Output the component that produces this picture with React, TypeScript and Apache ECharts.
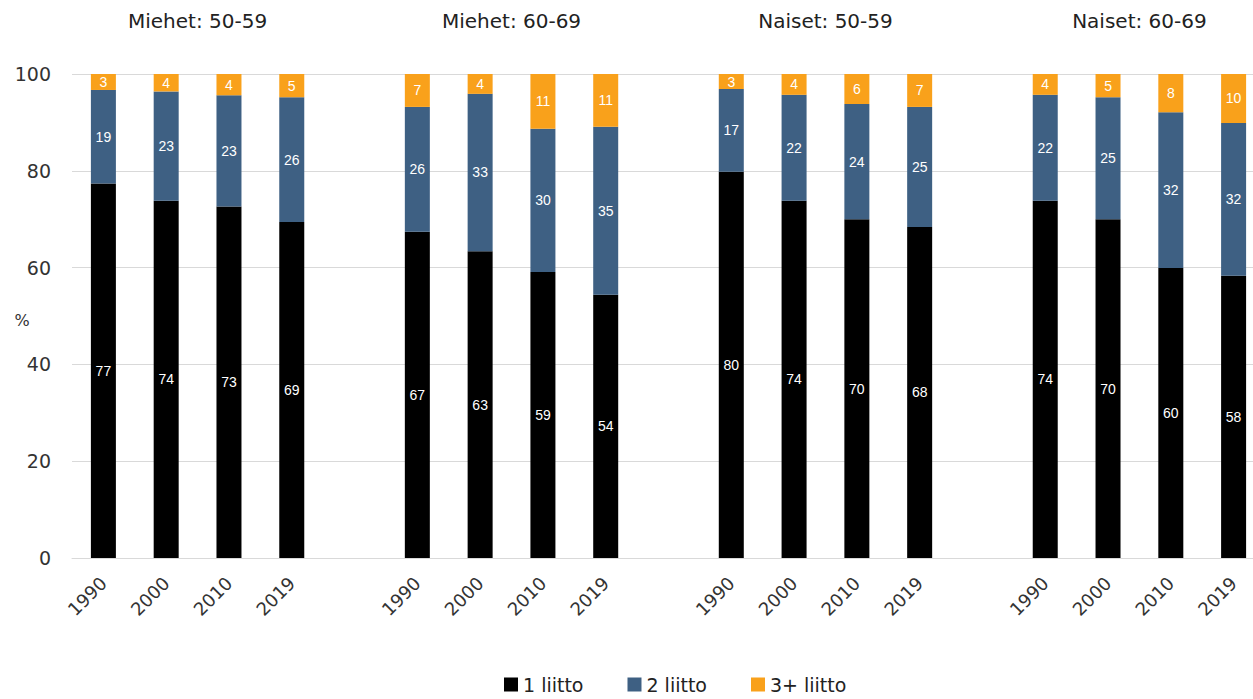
import React, { useEffect, useRef } from "react";
import * as echarts from "echarts";

const groupTitles = ["Miehet: 50-59", "Miehet: 60-69", "Naiset: 50-59", "Naiset: 60-69"];
const years = ["1990", "2000", "2010", "2019"];
const yTicks = [0, 20, 40, 60, 80, 100];
const yAxisName = "%";

// values per group, per year (percent)
const liitto1 = [
  [77.4, 73.8, 72.6, 69.4],
  [67.4, 63.4, 59.1, 54.4],
  [79.8, 73.8, 70.0, 68.4],
  [73.8, 70.0, 59.9, 58.3],
];
const liitto2 = [
  [19.3, 22.6, 23.0, 25.8],
  [25.8, 32.5, 29.6, 34.7],
  [17.1, 21.9, 23.8, 24.8],
  [21.9, 25.2, 32.2, 31.6],
];
const liitto3 = [
  [3.3, 3.6, 4.4, 4.8],
  [6.8, 4.1, 11.3, 10.9],
  [3.1, 4.3, 6.2, 6.8],
  [4.3, 4.8, 7.9, 10.1],
];
const seriesNames = ["1 liitto", "2 liitto", "3+ liitto"];
const colors = ["#000000", "#3e6083", "#f9a11b"];

const FONT = "'DejaVu Sans', 'Noto Sans', sans-serif";

function flatten(groups: number[][]): (number | null)[] {
  const out: (number | null)[] = [];
  groups.forEach((g, i) => {
    g.forEach((v) => out.push(v));
    if (i < groups.length - 1) out.push(null);
  });
  return out;
}

const categories: string[] = [];
groupTitles.forEach((_, i) => {
  years.forEach((y) => categories.push(y));
  if (i < groupTitles.length - 1) categories.push("");
});

export default function App() {
  const ref = useRef<HTMLDivElement>(null);
  useEffect(() => {
    if (!ref.current) return;
    const chart = echarts.init(ref.current, undefined, { renderer: "svg" });
    const data = [liitto1, liitto2, liitto3].map(flatten);
    chart.setOption({
      animation: false,
      grid: { left: 72, width: 1193, top: 74, bottom: 141, outerBoundsMode: "none", containLabel: false },
      legend: {
        bottom: 0,
        left: 499,
        icon: "rect",
        itemWidth: 14,
        itemHeight: 14,
        itemGap: 44,
        textStyle: { fontFamily: FONT, fontSize: 19, color: "#222" },
        data: seriesNames,
      },
      xAxis: {
        type: "category",
        data: categories,
        axisTick: { show: false },
        axisLine: { lineStyle: { color: "#d9d9d9" } },
        axisLabel: {
          rotate: 45,
          interval: 0,
          margin: 22,
          fontFamily: FONT,
          fontSize: 18,
          color: "#333",
        },
      },
      yAxis: {
        type: "value",
        min: 0,
        max: 100,
        interval: 20,
        axisLabel: {
          margin: 21,
          fontFamily: FONT,
          fontSize: 19,
          color: "#333",
          formatter: (v: number) => (yTicks.includes(v) ? String(v) : ""),
        },
        splitLine: { lineStyle: { color: "#d9d9d9" } },
      },
      series: seriesNames.map((name, i) => ({
        name,
        type: "bar",
        stack: "total",
        barWidth: 25,
        data: data[i],
        itemStyle: { color: colors[i] },
        label: {
          show: true,
          position: "inside",
          color: "#ffffff",
          fontFamily: "'Liberation Sans', Arial, sans-serif",
          fontSize: 14,
          formatter: (p: any) => (p.value == null ? "" : String(Math.round(p.value))),
        },
      })),
    });
    const graphics: any[] = groupTitles.map((t, gi) => {
      const start = gi * (years.length + 1);
      const x0 = chart.convertToPixel({ xAxisIndex: 0 }, start) as number;
      const x1 = chart.convertToPixel({ xAxisIndex: 0 }, start + years.length - 1) as number;
      return {
        type: "text",
        x: (x0 + x1) / 2,
        y: 21,
        style: {
          text: t,
          fontFamily: FONT,
          fontSize: 20,
          fill: "#222",
          textAlign: "center",
          textVerticalAlign: "middle",
        },
      };
    });
    const yMid = chart.convertToPixel({ yAxisIndex: 0 }, 49) as number;
    graphics.push({
      type: "text",
      x: 22,
      y: yMid,
      style: {
        text: yAxisName,
        fontFamily: FONT,
        fontSize: 16,
        fill: "#333",
        textAlign: "center",
        textVerticalAlign: "middle",
      },
    });
    chart.setOption({ graphic: graphics });
    return () => chart.dispose();
  }, []);
  return (
    <div
      ref={ref}
      style={{ position: "fixed", left: 0, top: 0, width: 1253, height: 699, background: "#fff" }}
    />
  );
}
